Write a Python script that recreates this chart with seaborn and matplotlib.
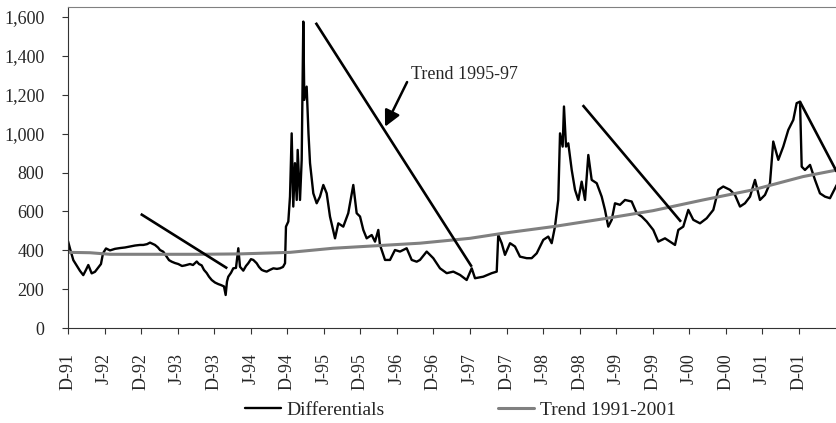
import numpy as np
import pandas as pd
import matplotlib
matplotlib.use("Agg")
import matplotlib.pyplot as plt
import seaborn as sns

# Differentials series (decimal years, value)
diff_year = [
    1991.917, 1991.944, 1991.990, 1992.040, 1992.081, 1992.126, 1992.163, 1992.195,
    1992.241, 1992.286, 1992.327, 1992.368, 1992.396, 1992.437, 1992.492, 1992.560,
    1992.628, 1992.697, 1992.765, 1992.834, 1992.902, 1992.947, 1992.998, 1993.039,
    1993.066, 1993.107, 1993.148, 1993.176, 1993.221, 1993.267, 1993.299, 1993.336,
    1993.381, 1993.426, 1993.477, 1993.518, 1993.586, 1993.627, 1993.678, 1993.709,
    1993.746, 1993.777, 1993.814, 1993.846, 1993.883, 1993.928, 1993.973, 1994.010,
    1994.051, 1994.074, 1994.092, 1994.110, 1994.147, 1994.178, 1994.215, 1994.247,
    1994.270, 1994.315, 1994.352, 1994.383, 1994.420, 1994.452, 1994.498, 1994.530,
    1994.567, 1994.598, 1994.635, 1994.680, 1994.726, 1994.776, 1994.817, 1994.858,
    1994.886, 1994.899, 1994.931, 1994.954, 1994.977, 1994.999, 1995.022, 1995.046,
    1995.059, 1995.091, 1995.114, 1995.136, 1995.150, 1995.182, 1995.207, 1995.228,
    1995.273, 1995.319, 1995.364, 1995.410, 1995.456, 1995.501, 1995.570, 1995.615,
    1995.683, 1995.751, 1995.820, 1995.866, 1995.912, 1995.957, 1996.003, 1996.072,
    1996.117, 1996.162, 1996.185, 1996.254, 1996.322, 1996.390, 1996.459, 1996.550,
    1996.619, 1996.687, 1996.732, 1996.824, 1996.914, 1997.006, 1997.098, 1997.188,
    1997.280, 1997.371, 1997.440, 1997.485, 1997.598, 1997.713, 1997.782, 1997.803,
    1997.850, 1997.895, 1997.964, 1998.032, 1998.100, 1998.192, 1998.260, 1998.329,
    1998.419, 1998.487, 1998.534, 1998.579, 1998.624, 1998.648, 1998.684, 1998.702,
    1998.730, 1998.761, 1998.808, 1998.853, 1998.898, 1998.944, 1998.990, 1999.035,
    1999.081, 1999.150, 1999.218, 1999.263, 1999.308, 1999.355, 1999.400, 1999.468,
    1999.537, 1999.628, 1999.697, 1999.765, 1999.834, 1999.924, 1999.992, 2000.084,
    2000.152, 2000.221, 2000.266, 2000.334, 2000.403, 2000.471, 2000.563, 2000.654,
    2000.745, 2000.813, 2000.881, 2000.973, 2001.041, 2001.110, 2001.178, 2001.247,
    2001.315, 2001.383, 2001.452, 2001.520, 2001.565, 2001.634, 2001.702, 2001.771,
    2001.839, 2001.885, 2001.931, 2001.954, 2001.999, 2002.068, 2002.136, 2002.204,
    2002.273, 2002.341, 2002.433,
]
diff_value = [
    448, 410, 350, 320, 295, 273, 300, 325,
    282, 290, 310, 330, 385, 410, 400, 408,
    412, 415, 420, 425, 428, 428, 432, 440,
    435, 428, 415, 402, 393, 368, 350, 342,
    335, 330, 320, 323, 330, 325, 343, 330,
    323, 300, 284, 265, 248, 235, 227, 222,
    215, 171, 240, 265, 285, 308, 310, 411,
    316, 296, 320, 334, 355, 351, 334, 315,
    300, 295, 291, 300, 308, 305, 308, 315,
    334, 522, 548, 676, 1001, 625, 848, 659,
    916, 659, 865, 1575, 1173, 1241, 1000, 848,
    693, 642, 676, 736, 693, 574, 462, 539,
    522, 591, 736, 591, 574, 505, 462, 479,
    445, 505, 428, 351, 351, 402, 394, 411,
    351, 342, 351, 394, 360, 308, 283, 291,
    274, 248, 308, 257, 265, 283, 291, 479,
    437, 377, 437, 420, 368, 360, 360, 385,
    454, 471, 437, 522, 659, 1001, 933, 1139,
    933, 950, 813, 711, 659, 753, 659, 890,
    762, 745, 676, 608, 522, 557, 642, 634,
    659, 651, 591, 574, 548, 505, 445, 462,
    445, 428, 505, 522, 608, 557, 539, 565,
    608, 711, 728, 711, 685, 625, 642, 676,
    762, 659, 685, 745, 959, 865, 933, 1019,
    1070, 1156, 1164, 830, 813, 839, 762, 693,
    676, 668, 736,
]

# long-run trend 1991-2001 (grey)
trend_year = [1991.917, 1992.218, 1992.492, 1993.039, 1993.723, 1994.270, 1994.954,
              1995.542, 1996.185, 1996.732, 1997.416, 1997.868, 1998.552, 1999.290,
              1999.920, 2000.604, 2001.288, 2001.972, 2002.437]
trend_value = [390, 388, 380, 380, 380, 382, 390, 411, 425, 437, 462, 488, 522, 565,
               604, 659, 711, 779, 813]

# short trend segments drawn by hand in the original (start, end)
seg_year = [(1992.912, 1994.096), (1995.306, 1997.440), (1998.958, 2000.303), (2001.931, 2002.433)]
seg_value = [(587, 308), (1569, 316), (1146, 547), (1163, 804)]

tick_labels = ['D-91', 'J-92', 'D-92', 'J-93', 'D-93', 'J-94', 'D-94', 'J-95', 'D-95', 'J-96',
               'D-96', 'J-97', 'D-97', 'J-98', 'D-98', 'J-99', 'D-99', 'J-00', 'D-00', 'J-01', 'D-01']

sns.set_style("ticks")
plt.rcParams['font.family'] = ['Liberation Serif', 'DejaVu Serif']

# tick positions: D = December, J = June
def pos_label(lab):
    yy = int(lab[2:])
    year = 1900 + yy if yy > 50 else 2000 + yy
    return year + (11 / 12 if lab[0] == 'D' else 5 / 12)

tick_pos = [pos_label(l) for l in tick_labels]

df_diff = pd.DataFrame({'year': diff_year, 'value': diff_value})
df_trend = pd.DataFrame({'year': trend_year, 'value': trend_value})

fig = plt.figure(figsize=(8.37, 4.23), dpi=100)
ax = fig.add_axes([0.0812, 0.2239, 0.9188, 0.7596])

sns.lineplot(data=df_diff, x='year', y='value', ax=ax, color='black', lw=1.7,
             label='Differentials', sort=False)
sns.lineplot(data=df_trend, x='year', y='value', ax=ax, color='#808080', lw=2.2,
             label='Trend 1991-2001')
for (x0, x1), (y0, y1) in zip(seg_year, seg_value):
    ax.plot([x0, x1], [y0, y1], color='black', lw=1.9, solid_capstyle='butt')

ax.annotate('Trend 1995-97', xy=(1996.254, 1035), xytext=(1996.609, 1305),
            fontsize=13, va='center', ha='left',
            arrowprops=dict(arrowstyle='-|>', color='black', lw=1.8,
                            mutation_scale=24, relpos=(0, 0.5), shrinkA=1, shrinkB=0))

ax.set_xlim(1991.917, 2002.437)
ax.set_ylim(0, 1650)
ax.set_yticks(range(0, 1601, 200))
ax.set_yticklabels([f'{v:,}' for v in range(0, 1601, 200)], fontsize=13)
ax.set_xticks(tick_pos)
ax.set_xticklabels(tick_labels, rotation=90, fontsize=13)
ax.tick_params(axis='x', length=4, pad=14, color='#333333')
ax.tick_params(axis='y', length=4, pad=13, color='#333333')
ax.set_xlabel('')
ax.set_ylabel('')

ax.spines['right'].set_visible(False)
ax.spines['top'].set_color('#808080')
ax.spines['left'].set_color('#333333')
ax.spines['bottom'].set_color('#333333')

handles, labels = ax.get_legend_handles_labels()
ax.get_legend().remove()
fig.legend(handles, labels, loc='center', bbox_to_anchor=(0.55, 0.03), ncol=2,
           frameon=False, fontsize=14, handlelength=1.85, columnspacing=5.8,
           handletextpad=0.3)

fig.savefig('out.png', dpi=100)
